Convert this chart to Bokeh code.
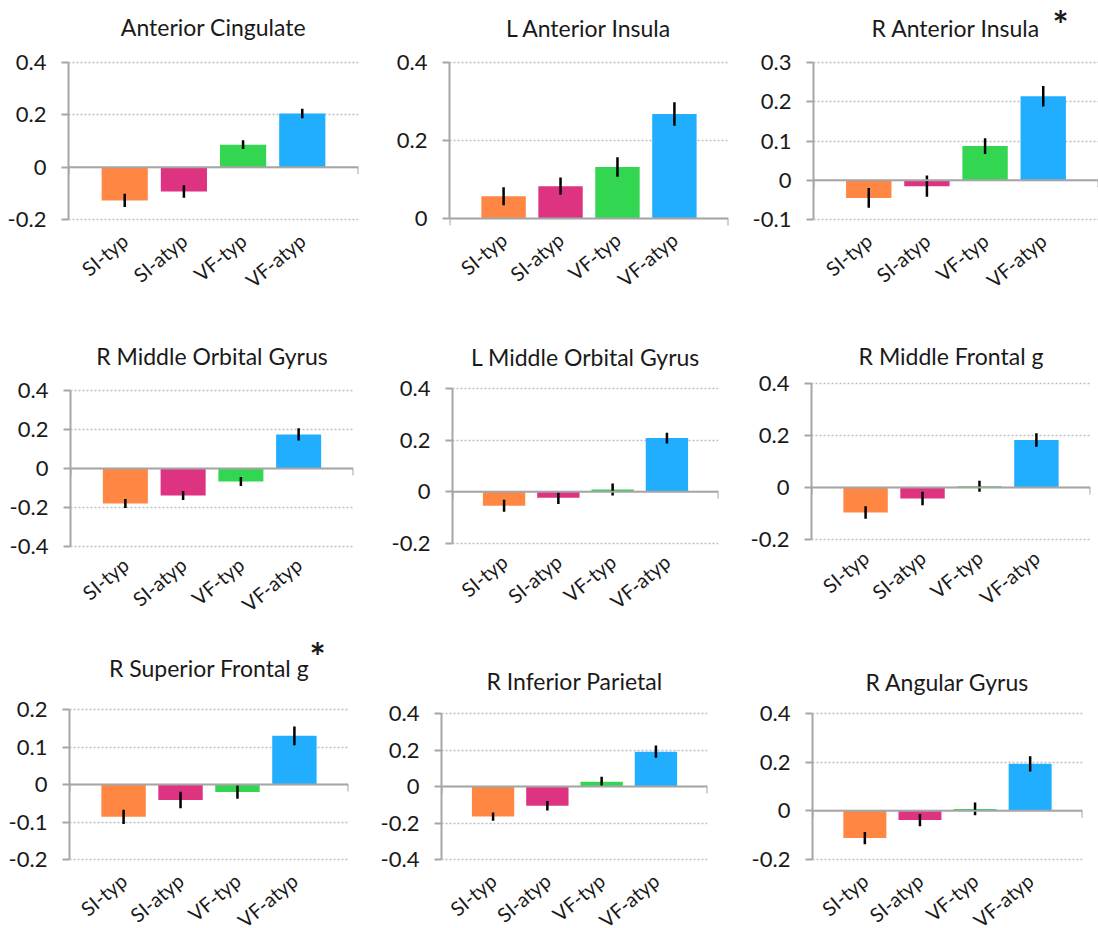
import math
from bokeh.plotting import figure
from bokeh.layouts import row, column
from bokeh.models import FactorRange, Range1d, FixedTicker, Span, Label, ColumnDataSource
from bokeh.embed import file_html
from bokeh.resources import INLINE

# ---------------- data ----------------
categories = ["SI-typ", "SI-atyp", "VF-typ", "VF-atyp"]
bar_colors = ["#FF8743", "#DE3380", "#33D651", "#22AEFF"]

region_titles = ["Anterior Cingulate", "L Anterior Insula", "R Anterior Insula",
                 "R Middle Orbital Gyrus", "L Middle Orbital Gyrus", "R Middle Frontal g",
                 "R Superior Frontal g", "R Inferior Parietal", "R Angular Gyrus"]
significant = [False, False, True, False, False, False, True, False, False]

anterior_cingulate = [-0.127, -0.093, 0.086, 0.205]
anterior_cingulate_err = [0.025, 0.024, 0.017, 0.018]
l_anterior_insula = [0.057, 0.083, 0.132, 0.268]
l_anterior_insula_err = [0.023, 0.022, 0.025, 0.030]
r_anterior_insula = [-0.045, -0.015, 0.087, 0.214]
r_anterior_insula_err = [0.025, 0.027, 0.020, 0.026]
r_middle_orbital = [-0.179, -0.139, -0.067, 0.175]
r_middle_orbital_err = [0.023, 0.023, 0.023, 0.031]
l_middle_orbital = [-0.054, -0.023, 0.009, 0.208]
l_middle_orbital_err = [0.023, 0.024, 0.023, 0.021]
r_middle_frontal = [-0.096, -0.042, 0.005, 0.183]
r_middle_frontal_err = [0.024, 0.026, 0.021, 0.026]
r_superior_frontal = [-0.086, -0.041, -0.020, 0.130]
r_superior_frontal_err = [0.019, 0.022, 0.018, 0.025]
r_inferior_parietal = [-0.165, -0.105, 0.026, 0.191]
r_inferior_parietal_err = [0.023, 0.026, 0.027, 0.033]
r_angular = [-0.112, -0.038, 0.008, 0.193]
r_angular_err = [0.025, 0.025, 0.026, 0.031]

panel_means = [anterior_cingulate, l_anterior_insula, r_anterior_insula,
               r_middle_orbital, l_middle_orbital, r_middle_frontal,
               r_superior_frontal, r_inferior_parietal, r_angular]
panel_errs = [anterior_cingulate_err, l_anterior_insula_err, r_anterior_insula_err,
              r_middle_orbital_err, l_middle_orbital_err, r_middle_frontal_err,
              r_superior_frontal_err, r_inferior_parietal_err, r_angular_err]

ticks_m2_p4 = [-0.2, 0, 0.2, 0.4]
labels_m2_p4 = ["-0.2", "0", "0.2", "0.4"]
ticks_0_p4 = [0, 0.2, 0.4]
labels_0_p4 = ["0", "0.2", "0.4"]
ticks_m1_p3 = [-0.1, 0, 0.1, 0.2, 0.3]
labels_m1_p3 = ["-0.1", "0", "0.1", "0.2", "0.3"]
ticks_m4_p4 = [-0.4, -0.2, 0, 0.2, 0.4]
labels_m4_p4 = ["-0.4", "-0.2", "0", "0.2", "0.4"]
ticks_m2_p2 = [-0.2, -0.1, 0, 0.1, 0.2]
labels_m2_p2 = ["-0.2", "-0.1", "0", "0.1", "0.2"]

panel_ticks = [ticks_m2_p4, ticks_0_p4, ticks_m1_p3,
               ticks_m4_p4, ticks_m2_p4, ticks_m2_p4,
               ticks_m2_p2, ticks_m4_p4, ticks_m2_p4]
panel_tick_labels = [labels_m2_p4, labels_0_p4, labels_m1_p3,
                     labels_m4_p4, labels_m2_p4, labels_m2_p4,
                     labels_m2_p2, labels_m4_p4, labels_m2_p4]

# ---------------- layout / style ----------------
FONT = "Lato"
TEXT = "#1a1a1a"
AXIS = "#A6A6A6"
col_edges = [0, 366, 732, 1098]
row_edges = [0, 310, 620, 928]
# axis boxes in page pixels: left, right, top tick, bottom tick
frames = [(68, 358, 62, 219), (449, 728, 62, 218), (813, 1098, 62, 219),
          (70, 353, 390, 546), (452, 718, 388, 543), (811, 1090, 383, 539),
          (69, 348, 709, 859), (441, 707, 713, 859), (812, 1082, 713, 859)]
title_mid_y = [26.5, 27.5, 27.5, 355.5, 356, 355.5, 667.5, 680.5, 681]
star_pos = [None, None, (1060, 23.5), None, None, None, (317, 655), None, None]
label_standoff = [12, 12, 12, 9, 9, 9, 12, 12, 12]
END_TICK_PX = 7
PAD = 0.45

figs = []
for i in range(9):
    r, c = divmod(i, 3)
    fl, fr, ft, fb = frames[i]
    w = col_edges[c + 1] - col_edges[c]
    top_px, bot_px = row_edges[r], row_edges[r + 1]
    h = bot_px - top_px
    ticks = panel_ticks[i]
    lo, hi = ticks[0], ticks[-1]
    upp = (hi - lo) / (fb - ft)          # data units per pixel
    y_start = lo - (bot_px - fb) * upp
    y_end = hi + (ft - top_px) * upp

    p = figure(width=w, height=h, title_location=None,
               x_range=FactorRange(factors=categories, range_padding=PAD,
                                   range_padding_units="absolute"),
               y_range=Range1d(y_start, y_end),
               output_backend="svg", toolbar_location=None,
               min_border_left=fl - col_edges[c],
               min_border_right=col_edges[c + 1] - fr,
               min_border_top=0, min_border_bottom=0)
    p.outline_line_color = None
    p.background_fill_color = "white"
    p.border_fill_color = "white"

    means = panel_means[i]
    errs = panel_errs[i]
    src = ColumnDataSource(dict(cat=categories, top=means, color=bar_colors,
                                lo=[m - e for m, e in zip(means, errs)],
                                hi=[m + e for m, e in zip(means, errs)]))
    p.vbar(x="cat", top="top", bottom=0, width=0.78, fill_color="color",
           line_color=None, source=src)
    # horizontal category axis line at zero, with end tick marks
    p.add_layout(Span(location=0, dimension="width", line_color=AXIS, line_width=2))
    x_ends = [-PAD, len(categories) + PAD]
    p.segment(x0=x_ends, y0=[0, 0], x1=x_ends,
              y1=[-END_TICK_PX * upp] * 2, line_color=AXIS, line_width=2)
    p.segment(x0="cat", y0="lo", x1="cat", y1="hi", line_color="black",
              line_width=2.5, source=src)

    # x axis: drawn at the bottom tick value, takes no panel space
    p.xaxis.fixed_location = lo
    p.xaxis.axis_line_color = None
    p.xaxis.major_tick_line_color = None
    p.xaxis.minor_tick_line_color = None
    p.xaxis.major_label_orientation = math.radians(40)
    p.xaxis.major_label_text_font = FONT
    p.xaxis.major_label_text_font_size = "20px"
    p.xaxis.major_label_text_color = TEXT
    p.xaxis.major_label_standoff = label_standoff[i]
    p.xgrid.grid_line_color = None

    # y axis
    p.yaxis.bounds = (lo, hi)
    p.yaxis.ticker = FixedTicker(ticks=ticks)
    p.yaxis.major_label_overrides = {t: s for t, s in zip(ticks, panel_tick_labels[i])}
    p.yaxis.axis_line_color = AXIS
    p.yaxis.axis_line_width = 2
    p.yaxis.major_tick_line_color = AXIS
    p.yaxis.major_tick_line_width = 2
    p.yaxis.major_tick_out = 7
    p.yaxis.major_tick_in = 0
    p.yaxis.minor_tick_line_color = None
    p.yaxis.major_label_text_font = FONT
    p.yaxis.major_label_text_font_size = "22px"
    p.yaxis.major_label_text_color = TEXT
    p.yaxis.major_label_standoff = 15
    p.ygrid.ticker = FixedTicker(ticks=ticks)
    p.ygrid.bounds = (lo, hi)
    p.ygrid.grid_line_color = "#BDBDBD"
    p.ygrid.grid_line_dash = "2 2"
    p.ygrid.grid_line_width = 1.5

    # panel title (inside the extended frame)
    unit = (fr - fl) / (len(categories) + 2 * PAD)
    p.add_layout(Label(x=len(categories) / 2, y=hi + (ft - title_mid_y[i]) * upp,
                       text=region_titles[i], text_font=FONT, text_font_size="23px",
                       text_color=TEXT, text_align="center", text_baseline="middle"))
    if significant[i]:
        sx, sy = star_pos[i]
        p.add_layout(Label(x=-PAD + (sx - fl) / unit, y=hi + (ft - sy) * upp,
                           text="*", text_font=FONT, text_font_size="38px",
                           text_font_style="bold", text_color=TEXT,
                           text_align="center", text_baseline="middle"))
    figs.append(p)

layout = column(row(*figs[0:3]), row(*figs[3:6]), row(*figs[6:9]))

open("out.html", "w").write(file_html(layout, INLINE))
